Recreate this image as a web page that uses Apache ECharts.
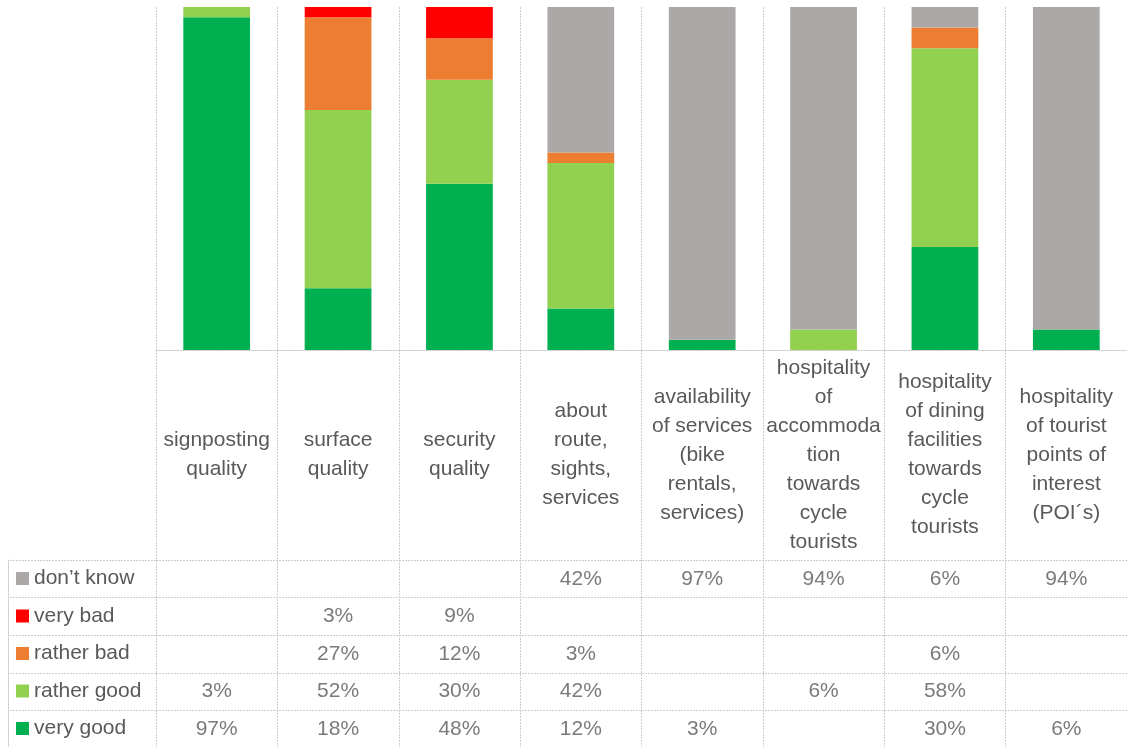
<!DOCTYPE html>
<html>
<head>
<meta charset="utf-8">
<title>Route quality ratings</title>
<script src="https://cdn.jsdelivr.net/npm/echarts/dist/echarts.min.js"></script>
<style>
  html, body { margin: 0; padding: 0; background: #ffffff; }
  #chart { width: 1127px; height: 747px; }
</style>
</head>
<body>
<div id="chart"></div>
<script>
// Aspects rated (line breaks as they wrap in the column headers)
const categories = [
  'signposting\nquality',
  'surface\nquality',
  'security\nquality',
  'about\nroute,\nsights,\nservices',
  'availability\nof services\n(bike\nrentals,\nservices)',
  'hospitality\nof\naccommoda\ntion\ntowards\ncycle\ntourists',
  'hospitality\nof dining\nfacilities\ntowards\ncycle\ntourists',
  'hospitality\nof tourist\npoints of\ninterest\n(POI´s)'
];

// Answer shares in percent (null = no answers)
const veryGood   = [97, 18, 48, 12, 3, null, 30, 6];
const ratherGood = [3, 52, 30, 42, null, 6, 58, null];
const ratherBad  = [null, 27, 12, 3, null, null, 6, null];
const veryBad    = [null, 3, 9, null, null, null, null, null];
const dontKnow   = [null, null, null, 42, 97, 94, 6, 94];

// Stacked bottom to top
const seriesNames = ['very good', 'rather good', 'rather bad', 'very bad', 'don\u2019t know'];
const seriesValues = [veryGood, ratherGood, ratherBad, veryBad, dontKnow];
const seriesColors = ['#00B050', '#92D050', '#ED7D31', '#FF0000', '#ACA8A8'];

const FONT = "'Liberation Sans', Arial, sans-serif";
const TEXT = '#595959';
const RULE = { color: '#cdcdcd', width: 1, type: [2, 1] };

// 100% stacked: each column is scaled to its own total
const columnTotals = categories.map((_, c) =>
  seriesValues.reduce((s, arr) => s + (arr[c] || 0), 0));

const barSeries = seriesNames.map((name, i) => ({
  name: name,
  type: 'bar',
  stack: 'total',
  xAxisIndex: 0,
  yAxisIndex: 0,
  barWidth: '55%',
  itemStyle: { color: seriesColors[i] },
  data: seriesValues[i].map((v, c) => v == null ? null : v / columnTotals[c] * 100)
}));

// Data table cells
const tableCells = [];
seriesValues.forEach((arr, r) => {
  arr.forEach((v, c) => { if (v != null) tableCells.push([c, r, v]); });
});

const chart = echarts.init(document.getElementById('chart'), null, { renderer: 'canvas' });

chart.setOption({
  animation: false,
  textStyle: { fontFamily: FONT },
  grid: [
    { left: 156, right: 0, top: 7, height: 343, outerBoundsMode: 'none' },
    { left: 156, right: 0, top: 560, height: 188, outerBoundsMode: 'none' }
  ],
  legend: {
    orient: 'vertical',
    left: 16,
    top: 566,
    padding: 0,
    itemGap: 12.5,
    itemWidth: 13,
    itemHeight: 13,
    icon: 'rect',
    selectedMode: false,
    data: seriesNames.slice().reverse(),
    textStyle: { fontSize: 21, lineHeight: 25, color: TEXT, fontFamily: FONT }
  },
  xAxis: [
    {
      type: 'category',
      gridIndex: 0,
      data: categories,
      position: 'bottom',
      axisLine: { show: true, lineStyle: RULE },
      axisTick: { show: true, length: 210, lineStyle: RULE },
      axisLabel: {
        interval: 0,
        margin: 105,
        verticalAlign: 'middle',
        lineHeight: 29,
        fontSize: 21,
        color: TEXT,
        fontFamily: FONT
      },
      splitLine: { show: true, lineStyle: RULE }
    },
    {
      type: 'category',
      gridIndex: 1,
      data: categories,
      position: 'top',
      axisLine: { show: false },
      axisTick: { show: false },
      axisLabel: { show: false },
      splitLine: { show: true, lineStyle: RULE }
    }
  ],
  yAxis: [
    {
      type: 'value',
      gridIndex: 0,
      min: 0,
      max: 100,
      show: false
    },
    {
      type: 'category',
      gridIndex: 1,
      data: seriesNames,
      axisLine: { show: false },
      axisTick: { show: true, length: 148, lineStyle: RULE },
      axisLabel: { show: false },
      splitLine: { show: true, lineStyle: RULE }
    },
    {
      type: 'category',
      gridIndex: 1,
      data: seriesNames,
      position: 'left',
      offset: 148,
      axisLine: { show: true, lineStyle: RULE },
      axisTick: { show: false },
      axisLabel: { show: false },
      splitLine: { show: false }
    }
  ],
  series: barSeries.concat([{
    name: 'table',
    type: 'scatter',
    xAxisIndex: 1,
    yAxisIndex: 1,
    symbolSize: 0,
    silent: true,
    label: {
      show: true,
      position: 'inside',
      formatter: p => p.value[2] + '%',
      fontSize: 21,
      color: TEXT,
      fontFamily: FONT
    },
    data: tableCells
  }])
});
</script>
</body>
</html>
